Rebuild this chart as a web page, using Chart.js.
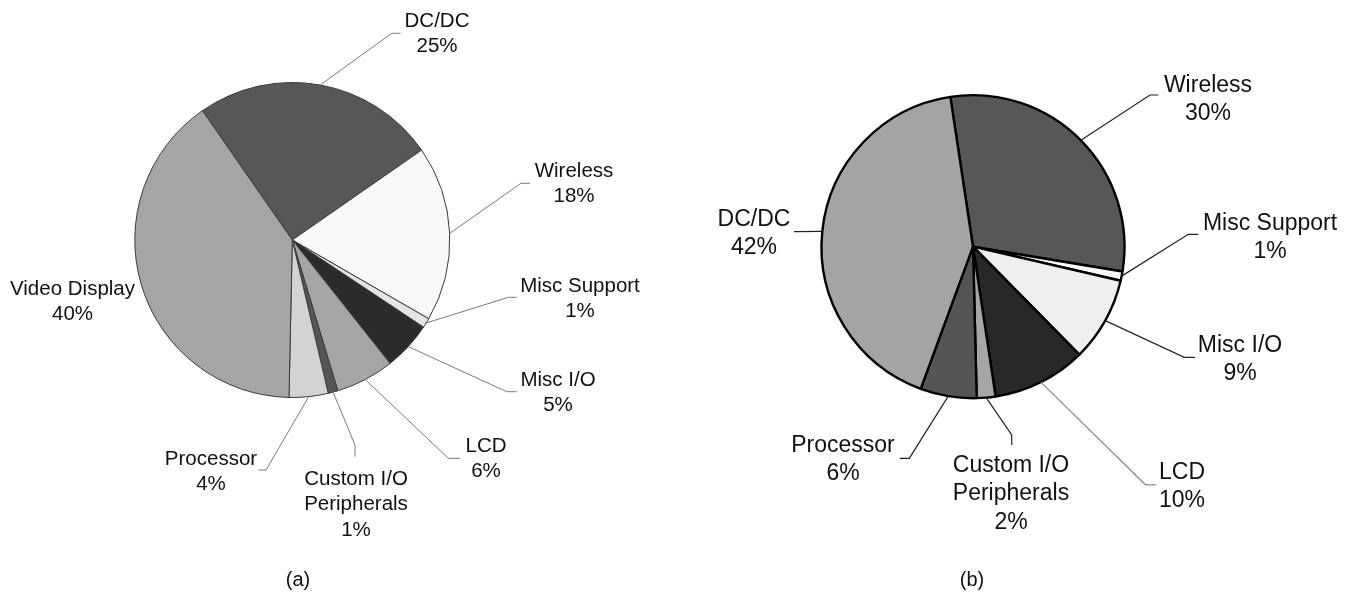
<!DOCTYPE html>
<html>
<head>
<meta charset="utf-8">
<script src="https://cdn.jsdelivr.net/npm/chart.js@4.4.1/dist/chart.umd.min.js"></script>
<style>
  html, body { margin: 0; padding: 0; background: #fff; }
  #wrap { position: relative; width: 1355px; height: 592px; overflow: hidden; }
  #wrap canvas { position: absolute; left: 0; top: 0; }
</style>
</head>
<body>
<div id="wrap">
  <canvas id="pieA" width="1355" height="592"></canvas>
  <canvas id="pieB" width="1355" height="592"></canvas>
</div>
<script>
// ---- (a) power breakdown ----
const categoriesA = ['DC/DC', 'Wireless', 'Misc Support', 'Misc I/O', 'LCD', ['Custom I/O', 'Peripherals'], 'Processor', 'Video Display'];
const valuesA = [25, 18, 1, 5, 6, 1, 4, 40];
const coloursA = ['#575757', '#f8f8f8', '#e4e4e4', '#2b2b2b', '#a5a5a5', '#555555', '#d3d3d3', '#a5a5a5'];

// ---- (b) power breakdown ----
const categoriesB = ['Wireless', 'Misc Support', 'Misc I/O', 'LCD', ['Custom I/O', 'Peripherals'], 'Processor', 'DC/DC'];
const valuesB = [30, 1, 9, 10, 2, 6, 42];
const coloursB = ['#575757', '#fbfbfb', '#efefef', '#282828', '#a6a6a6', '#555555', '#a4a4a4'];

// Label placement: text anchor (centre x, first baseline), leader elbow and end tick.
const spotsA = [
  { text: [437, 27], elbow: [391.7, 33.3], tick: [400.7, 33.3] },
  { text: [574, 177], elbow: [521, 183.3], tick: [530, 183.3] },
  { text: [580, 292], elbow: [508.3, 297.3], tick: [516.7, 297.3] },
  { text: [558, 386], elbow: [506.7, 391.7], tick: [516.7, 391.7] },
  { text: [486, 452], elbow: [448.3, 458.3], tick: [460, 458.3] },
  { text: [356, 485], elbow: [355, 445], tick: [355, 456.7] },
  { text: [211, 465], elbow: [266, 470], tick: [258.3, 470] },
  { text: [72.5, 295] }
];
const spotsB = [
  { text: [1208, 92], elbow: [1150, 95], tick: [1158.3, 95] },
  { text: [1270, 230], elbow: [1188.3, 234.3], tick: [1198.3, 234.3] },
  { text: [1240, 352], elbow: [1184.3, 357.4], tick: [1195, 357.4] },
  { text: [1182, 479], elbow: [1145.5, 484.8], tick: [1156.3, 484.8], lineColor: '#8a8a8a' },
  { text: [1011, 472], elbow: [1011.7, 435], tick: [1011.7, 445] },
  { text: [843, 452], elbow: [909.3, 458.3], tick: [900, 458.3] },
  { text: [754, 226], elbow: [794, 231.7] }
];

// Draws the name / percentage callouts with their leader lines, plus the panel caption.
const callouts = {
  id: 'callouts',
  afterDatasetsDraw(chart, args, opts) {
    const ctx = chart.ctx;
    const meta = chart.getDatasetMeta(0);
    const labels = chart.data.labels;
    const values = chart.data.datasets[0].data;
    ctx.save();
    meta.data.forEach((el, i) => {
      const spot = opts.spots[i];
      if (!spot) return;
      const a = el.getProps(['x', 'y', 'startAngle', 'endAngle', 'outerRadius'], true);
      const mid = (a.startAngle + a.endAngle) / 2;
      const sx = a.x + Math.cos(mid) * a.outerRadius;
      const sy = a.y + Math.sin(mid) * a.outerRadius;
      if (spot.elbow) {
        ctx.beginPath();
        ctx.moveTo(sx, sy);
        ctx.lineTo(spot.elbow[0], spot.elbow[1]);
        if (spot.tick) ctx.lineTo(spot.tick[0], spot.tick[1]);
        ctx.strokeStyle = spot.lineColor || opts.lineColor;
        ctx.lineWidth = opts.lineWidth;
        ctx.stroke();
      }
      const lines = [].concat(labels[i], values[i] + '%');
      ctx.font = opts.font;
      ctx.fillStyle = opts.color;
      ctx.textAlign = 'center';
      ctx.textBaseline = 'alphabetic';
      lines.forEach((t, k) => ctx.fillText(t, spot.text[0], spot.text[1] + k * opts.lineHeight));
    });
    if (opts.caption) {
      ctx.font = opts.captionFont;
      ctx.fillStyle = opts.color;
      ctx.textAlign = 'center';
      ctx.fillText(opts.caption.text, opts.caption.x, opts.caption.y);
    }
    ctx.restore();
  }
};

function makePie(id, labels, values, colours, cfg) {
  return new Chart(document.getElementById(id), {
    type: 'pie',
    data: {
      labels: labels,
      datasets: [{
        data: values,
        backgroundColor: colours,
        borderColor: cfg.borderColor,
        borderWidth: cfg.borderWidth,
        hoverOffset: 0
      }]
    },
    options: {
      responsive: false,
      animation: false,
      events: [],
      rotation: cfg.rotation,
      radius: cfg.radius,
      layout: { padding: cfg.padding },
      plugins: {
        legend: { display: false },
        tooltip: { enabled: false },
        callouts: {
          spots: cfg.spots,
          font: cfg.font,
          lineHeight: cfg.lineHeight,
          color: '#111',
          lineColor: cfg.lineColor,
          lineWidth: cfg.lineWidth,
          caption: cfg.caption,
          captionFont: '20px "Liberation Sans", Arial, sans-serif'
        }
      }
    },
    plugins: [callouts]
  });
}

makePie('pieA', categoriesA, valuesA, coloursA, {
  rotation: -34.8,
  radius: 157.5,
  padding: { left: 0, top: 0, right: 1355 - 584.6, bottom: 592 - 480 },
  borderColor: '#3a3a3a',
  borderWidth: 1,
  spots: spotsA,
  font: '20.5px "Liberation Sans", Arial, sans-serif',
  lineHeight: 25.3,
  lineColor: '#7a7a7a',
  lineWidth: 1,
  caption: { text: '(a)', x: 298, y: 586 }
});

makePie('pieB', categoriesB, valuesB, coloursB, {
  rotation: -8.6,
  radius: 151.5,
  padding: { left: 677, top: 0, right: 86, bottom: 592 - 493.4 },
  borderColor: '#000',
  borderWidth: 2.4,
  spots: spotsB,
  font: '23px "Liberation Sans", Arial, sans-serif',
  lineHeight: 28.3,
  lineColor: '#222',
  lineWidth: 1.2,
  caption: { text: '(b)', x: 972, y: 586 }
});
</script>
</body>
</html>
